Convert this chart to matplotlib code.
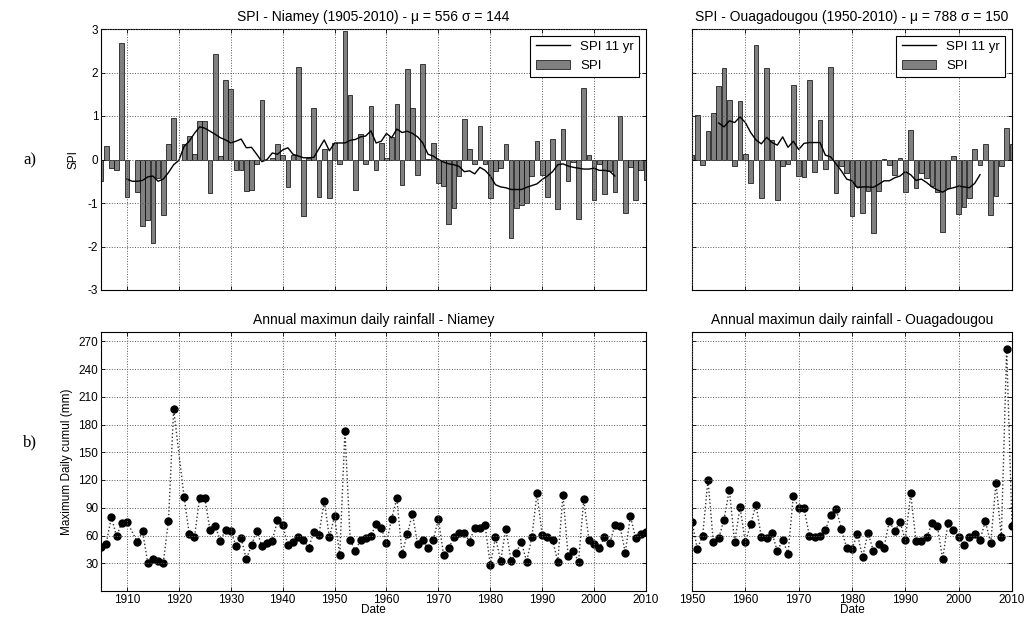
import numpy as np
import matplotlib
matplotlib.use('Agg')
import matplotlib.pyplot as plt
from matplotlib.patches import Patch
from matplotlib.lines import Line2D

plt.rcParams['font.family'] = ['Liberation Sans', 'DejaVu Sans']
plt.rcParams['axes.unicode_minus'] = False

# ---- data (None = missing year) ----
niamey_years = list(range(1905, 2011))
niamey_spi = [
    -0.50, 0.31, -0.19, -0.25, 2.67, -0.86, None, -0.75, -1.53, -1.39,
    -1.92, -0.42, -1.27, 0.35, 0.96, None, 0.35, 0.55, 0.13, 0.88,
    0.88, -0.77, 2.42, 0.08, 1.82, 1.62, -0.23, -0.23, -0.73, -0.69,
    -0.10, 1.36, -0.02, 0.03, 0.35, 0.10, -0.63, 0.10, 2.12, -1.30,
    0.03, 1.18, -0.87, 0.25, -0.88, 0.38, -0.10, 2.95, 1.48, -0.71,
    0.58, -0.10, 1.23, -0.24, 0.38, 0.04, 0.52, 1.28, -0.58, 2.08,
    1.19, -0.35, 2.20, 0.02, 0.38, -0.55, -0.62, -1.48, -1.12, -0.38,
    0.92, 0.23, -0.10, 0.77, -0.10, -0.88, -0.27, -0.20, 0.36, -1.80,
    -1.12, -1.04, -1.00, -0.38, 0.42, -0.35, -0.86, 0.46, -1.14, 0.71,
    -0.50, -0.05, -1.37, 1.65, 0.10, -0.94, -0.10, -0.80, -0.27, -0.75,
    1.00, -1.22, -0.18, -0.92, -0.25, -0.46]
niamey_ma_years = list(range(1910, 2005))
niamey_ma = [
    -0.45, -0.50, -0.50, -0.48, -0.40, -0.38, -0.50, -0.45, -0.30, -0.12,
    -0.02, 0.30, 0.42, 0.60, 0.75, 0.72, 0.65, 0.58, 0.50, 0.45,
    0.38, 0.42, 0.47, 0.27, 0.28, 0.12, -0.05, 0.00, 0.15, 0.12,
    0.22, 0.27, 0.12, 0.08, 0.04, 0.04, 0.05, 0.25, 0.45, 0.20,
    0.38, 0.38, 0.38, 0.44, 0.46, 0.52, 0.54, 0.66, 0.38, 0.42,
    0.60, 0.50, 0.70, 0.62, 0.65, 0.60, 0.52, 0.38, 0.12, 0.08,
    0.00, -0.06, -0.10, -0.12, -0.16, -0.28, -0.26, -0.33, -0.18, -0.25,
    -0.38, -0.58, -0.63, -0.65, -0.69, -0.69, -0.69, -0.64, -0.60, -0.56,
    -0.46, -0.38, -0.28, -0.12, -0.10, -0.15, -0.18, -0.20, -0.22, -0.22,
    -0.20, -0.25, -0.25, -0.27, -0.38]
niamey_rain = [
    48, 51, 80, 59, 74, 75, None, 53, 65, 30.5,
    34.5, 32.5, 30.5, 76, 196.5, None, 102, 61.5, 58, 100.5,
    100.5, 66, 70, 54.5, 66, 65, 49, 57, 34.5, 49.5,
    65, 48.5, 52, 54.5, 76.5, 71.5, 49.5, 53, 58, 55,
    47, 63.5, 61, 97.5, 58, 81, 38.5, 173, 55.5, 43,
    55.5, 57, 60, 72, 68.5, 51.5, 78, 100.5, 40, 61.5,
    83.5, 50.5, 55, 46, 55, 77.5, 39, 46, 58.5, 63,
    63, 53.5, 68.5, 68.5, 71, 28, 58, 32.5, 67.5, 32.5,
    41.5, 53, 31.5, 58, 105.5, 61, 58.5, 55.5, 31.5, 104,
    37.5, 43.5, 31.5, 99, 55.5, 50.5, 46.5, 58.5, 51.5, 71,
    70, 41.5, 81, 57, 61.5, 64]

ouaga_years = list(range(1950, 2011))
ouaga_spi = [
    0.10, 1.03, -0.12, 0.65, 1.08, 1.68, 2.10, 1.37, -0.15, 1.35,
    0.12, -0.55, 2.64, -0.88, 2.10, 0.45, -0.93, -0.16, -0.10, 1.72,
    -0.39, -0.41, 1.82, -0.28, 0.91, -0.22, 2.12, -0.77, -0.15, -0.30,
    -1.30, -0.60, -1.22, -0.72, -1.68, -0.72, 0.01, -0.12, -0.36, 0.04,
    -0.75, 0.68, -0.65, -0.30, -0.42, -0.61, -0.74, -1.67, -0.65, 0.08,
    -1.26, -1.10, -0.88, 0.24, -0.12, 0.35, -1.28, -0.85, -0.15, 0.73,
    0.35]
ouaga_ma_years = list(range(1955, 2005))
ouaga_ma = [
    0.84, 0.75, 0.89, 0.85, 0.98, 0.85, 0.62, 0.45, 0.36, 0.51,
    0.39, 0.33, 0.52, 0.28, 0.42, 0.23, 0.37, 0.39, 0.39, 0.39,
    0.10, 0.06, -0.10, -0.26, -0.45, -0.49, -0.65, -0.63, -0.63, -0.64,
    -0.57, -0.49, -0.49, -0.42, -0.38, -0.28, -0.35, -0.48, -0.45, -0.53,
    -0.63, -0.70, -0.75, -0.68, -0.65, -0.61, -0.63, -0.65, -0.55, -0.35]
ouaga_rain = [
    75, 45.5, 60, 120.5, 52.5, 57, 77, 109.5, 52.5, 91,
    52.5, 72, 93.5, 58, 57, 62.5, 43, 55.5, 40, 103,
    89.5, 89.5, 60, 58.5, 60, 65.5, 82.5, 89, 67.5, 46.5,
    45.5, 61.5, 37, 63, 43.5, 50.5, 47, 75.5, 64.5, 74.5,
    55, 105.5, 54, 54, 58, 73.5, 70, 35, 73, 66,
    58.5, 49.5, 58, 62, 55, 75.5, 51.5, 117, 58.5, 261.5,
    70.5]

spi_ticks = [-3, -2, -1, 0, 1, 2, 3]
rain_ticks = list(range(30, 271, 30))

titles_top = ['SPI - Niamey (1905-2010) - \u03bc = 556 \u03c3 = 144',
              'SPI - Ouagadougou (1950-2010) - \u03bc = 788 \u03c3 = 150']
titles_bot = ['Annual maximun daily rainfall - Niamey',
              'Annual maximun daily rainfall - Ouagadougou']


def keep(years, vals):
    pairs = [(y, v) for y, v in zip(years, vals) if v is not None]
    return [p[0] for p in pairs], [p[1] for p in pairs]


def style(ax):
    ax.grid(True, linestyle=':', color='0.35', linewidth=0.7)
    ax.set_axisbelow(False)
    ax.tick_params(direction='in', top=True, right=True, labelsize=8.5,
                   length=3, width=0.6, pad=2)
    for s in ax.spines.values():
        s.set_linewidth(0.8)


W, H = 1028, 617
fig = plt.figure(figsize=(W / 100, H / 100), dpi=100)

def box(l, t, r, b):
    return [l / W, 1 - b / H, (r - l) / W, (b - t) / H]

ax_a1 = fig.add_axes(box(101, 29, 646, 290))
ax_a2 = fig.add_axes(box(692, 29, 1012, 290))
ax_b1 = fig.add_axes(box(101, 332, 646, 591))
ax_b2 = fig.add_axes(box(692, 332, 1012, 591))

# ---- SPI panels ----
spi_sets = [(ax_a1, niamey_years, niamey_spi, niamey_ma_years, niamey_ma, (1905, 2010)),
            (ax_a2, ouaga_years, ouaga_spi, ouaga_ma_years, ouaga_ma, (1950, 2010))]
for i, (ax, yrs, spi, myrs, ma, lim) in enumerate(spi_sets):
    x, v = keep(yrs, spi)
    ax.bar(x, v, width=0.9, color='#808080', edgecolor='k', linewidth=0.5)
    ax.plot(myrs, ma, color='k', linewidth=1.0)
    ax.set_xlim(*lim)
    ax.set_ylim(-3, 3)
    ax.set_yticks(spi_ticks)
    ax.set_xticks(range(lim[0] + (10 - lim[0] % 10) % 10, 2011, 10))
    ax.set_xticklabels([])
    style(ax)
    ax.set_title(titles_top[i], fontsize=10, pad=6)
    handles = [Line2D([0], [0], color='k', lw=1.0),
               Patch(facecolor='#808080', edgecolor='k', linewidth=0.5)]
    leg = ax.legend(handles, ['SPI 11 yr', 'SPI'], loc='upper right',
                    fontsize=9.5, fancybox=False, framealpha=1,
                    edgecolor='k', handlelength=2.6, borderaxespad=0.5)
    leg.get_frame().set_linewidth(0.8)
ax_a1.set_ylabel('SPI', fontsize=8.5, labelpad=6)
ax_a2.set_yticklabels([])

# ---- rainfall panels ----
rain_sets = [(ax_b1, niamey_years, niamey_rain, (1905, 2010)),
             (ax_b2, ouaga_years, ouaga_rain, (1950, 2010))]
for i, (ax, yrs, rain, lim) in enumerate(rain_sets):
    x, v = keep(yrs, rain)
    ax.plot(x, v, linestyle=':', color='0.2', linewidth=1.0,
            marker='o', markersize=5, markerfacecolor='k', markeredgecolor='k')
    ax.set_xlim(*lim)
    ax.set_ylim(0, 280)
    ax.set_yticks(rain_ticks)
    ax.set_xticks(range(lim[0] + (10 - lim[0] % 10) % 10, 2011, 10))
    style(ax)
    ax.set_title(titles_bot[i], fontsize=10, pad=6)
    ax.set_xlabel('Date', fontsize=8.5, labelpad=-1)
ax_b1.set_ylabel('Maximum Daily cumul (mm)', fontsize=8.5, labelpad=4)
ax_b2.set_yticklabels([])

fig.text(30 / W, 1 - 160 / H, 'a)', family='Liberation Serif', fontsize=12,
         ha='center', va='center')
fig.text(30 / W, 1 - 442 / H, 'b)', family='Liberation Serif', fontsize=12,
         ha='center', va='center')

fig.savefig('out.png', dpi=100, facecolor='white')
plt.close(fig)
